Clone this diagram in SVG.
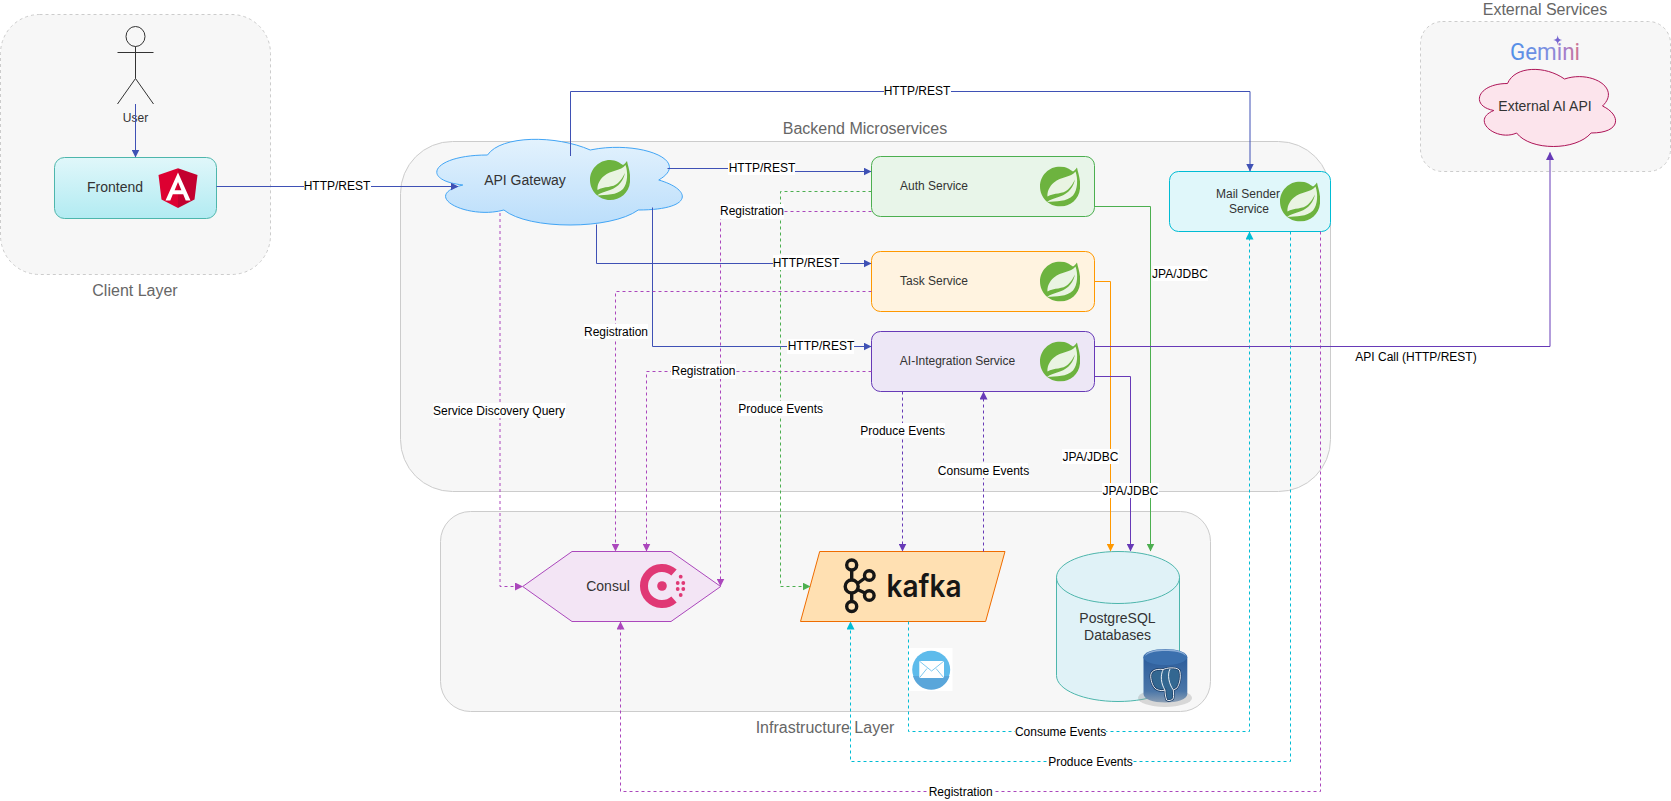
<svg xmlns="http://www.w3.org/2000/svg" width="1671" height="801" viewBox="0 0 1671 801">
<style>
text{font-family:"Liberation Sans",Arial,sans-serif;text-anchor:middle}
.layer{fill:#f7f7f7;stroke:#cccccc;stroke-width:1}
.dash{stroke-dasharray:3 3}
.title{font-size:16px;fill:#666666}
.n14{font-size:14px;fill:#333333}
.n12{font-size:12px;fill:#333333}
.lab{font-size:12px;fill:#000000}
.bg{fill:#ffffff}
.c{fill:none;stroke-width:1}
.http{stroke:#3f51b5}
.reg{stroke:#ab47bc}
.green{stroke:#4caf50}
.orange{stroke:#ff9800}
.purple{stroke:#673ab7}
.cyan{stroke:#00bcd4}
</style>
<defs>
<linearGradient id="gFront" x1="0" y1="0" x2="0" y2="1"><stop offset="0" stop-color="#e0f7fa"/><stop offset="1" stop-color="#b2ebf2"/></linearGradient>
<linearGradient id="gGate" x1="0" y1="0" x2="0" y2="1"><stop offset="0" stop-color="#e3f2fd"/><stop offset="1" stop-color="#bbdefb"/></linearGradient>
<linearGradient id="gGem" gradientUnits="userSpaceOnUse" x1="1510" y1="0" x2="1580" y2="0"><stop offset="0" stop-color="#4f8fe8"/><stop offset="0.55" stop-color="#7f8fe0"/><stop offset="0.8" stop-color="#a77cc8"/><stop offset="1" stop-color="#d0738a"/></linearGradient>
<linearGradient id="gPg" x1="0" y1="0" x2="0" y2="1"><stop offset="0" stop-color="#2c5d9c"/><stop offset="0.75" stop-color="#4a76a8"/><stop offset="1" stop-color="#8c9fb4"/></linearGradient>
<marker id="aHttp" markerUnits="userSpaceOnUse" markerWidth="8" markerHeight="8" refX="7.5" refY="4" orient="auto"><path d="M0,0 L8,4 L0,8 Z" fill="#3f51b5"/></marker>
<marker id="aReg" markerUnits="userSpaceOnUse" markerWidth="8" markerHeight="8" refX="7.5" refY="4" orient="auto"><path d="M0,0 L8,4 L0,8 Z" fill="#ab47bc"/></marker>
<marker id="aGreen" markerUnits="userSpaceOnUse" markerWidth="8" markerHeight="8" refX="7.5" refY="4" orient="auto"><path d="M0,0 L8,4 L0,8 Z" fill="#4caf50"/></marker>
<marker id="aOrange" markerUnits="userSpaceOnUse" markerWidth="8" markerHeight="8" refX="7.5" refY="4" orient="auto"><path d="M0,0 L8,4 L0,8 Z" fill="#ff9800"/></marker>
<marker id="aPurple" markerUnits="userSpaceOnUse" markerWidth="8" markerHeight="8" refX="7.5" refY="4" orient="auto"><path d="M0,0 L8,4 L0,8 Z" fill="#673ab7"/></marker>
<marker id="aCyan" markerUnits="userSpaceOnUse" markerWidth="8" markerHeight="8" refX="7.5" refY="4" orient="auto"><path d="M0,0 L8,4 L0,8 Z" fill="#00bcd4"/></marker>
<symbol id="spring" viewBox="0 0 40 40" width="40" height="40">
<path d="M37,1 C38,6 41,14 40,22 C39,33 30,40 20,40 C9,40 0,31 0,20 C0,9 9,0 20,0 C26,0 30,3 33,5 C34.5,4 36,2.5 37,1 Z" fill="#6db33f"/>
<path d="M35.5,5 C31,11 21,10 14,16 C9,20 7,26 7.5,30 C14,26 23,28 28,23 C31,20 33,17 35,13 C33.5,20 29,27 20,30 C15,32 10,33 7,35.5 C16,34.5 27,35.5 33,29 C38,23 38,12 35.5,5 Z" fill="#ffffff" fill-opacity="0.85"/>
</symbol>
</defs>
<rect width="1671" height="801" fill="#ffffff"/>

<g id="client-layer"><rect class="layer dash" x="0.5" y="14.5" width="270" height="260" rx="39" ry="39"/><text class="title" x="135" y="296">Client Layer</text></g>
<g id="backend-layer"><rect class="layer" x="400.5" y="141.5" width="930" height="350" rx="52" ry="52"/><text class="title" x="865" y="134">Backend Microservices</text></g>
<g id="infrastructure-layer"><rect class="layer" x="440.5" y="511.5" width="770" height="200" rx="30" ry="30"/><text class="title" x="825" y="733">Infrastructure Layer</text></g>
<g id="external-layer"><rect class="layer dash" x="1420.5" y="21.5" width="250" height="150" rx="22" ry="22"/><text class="title" x="1545" y="15">External Services</text></g>

<g id="user">
<g fill="none" stroke="#333333" stroke-width="1"><ellipse cx="135.5" cy="36.5" rx="9.5" ry="10"/><path d="M135.5,46.5 V78.5 M117.5,52.5 H153.5 M117.5,104 L135.5,78.5 L153.5,104"/></g>
<text class="n12" x="135.5" y="122">User</text>
</g>
<g id="frontend">
<rect x="54.5" y="157.5" width="162" height="61" rx="10" ry="10" fill="url(#gFront)" stroke="#4db6ac"/>
<text class="n14" x="115" y="192">Frontend</text>
<path d="M178,168.3 L158.5,175 L161.5,199.5 L178,208 Z" fill="#dd0031"/><path d="M178,168.3 L197.5,175 L194.5,199.5 L178,208 Z" fill="#c3002f"/>
<path fill-rule="evenodd" d="M178,172.5 L165.5,200.5 L170.3,200.5 L172.8,194.3 L183.2,194.3 L185.7,200.5 L190.5,200.5 Z M174.6,190.3 L178,182 L181.4,190.3 Z" fill="#ffffff"/>
</g>
<g id="api-gateway">
<path d="M487.5,155 C432.7,155 419,180 462.8,185 C419,196 468.3,220 503.9,210 C528.6,230 610.8,230 638.2,210 C693,210 693,190 658.75,180 C693,160 638.2,140 590.25,150 C556,135 501.2,135 487.5,155 Z" fill="url(#gGate)" stroke="#42a5f5"/>
<text class="n14" x="525" y="185">API Gateway</text>
<use href="#spring" x="590" y="160"/>
</g>
<g id="auth-service">
<rect x="871.5" y="156.5" width="223" height="60" rx="9" ry="9" fill="#e8f5e9" stroke="#4caf50"/>
<text class="n12" x="934" y="190">Auth Service</text><use href="#spring" x="1040" y="166.5"/>
</g>
<g id="task-service">
<rect x="871.5" y="251.5" width="223" height="60" rx="9" ry="9" fill="#fff3e0" stroke="#ff9800"/>
<text class="n12" x="934" y="285">Task Service</text><use href="#spring" x="1040" y="261.5"/>
</g>
<g id="ai-integration-service">
<rect x="871.5" y="331.5" width="223" height="60" rx="9" ry="9" fill="#ede7f6" stroke="#673ab7"/>
<text class="n12" x="957.5" y="365">AI-Integration Service</text><use href="#spring" x="1040" y="341.5"/>
</g>
<g id="mail-sender-service">
<rect x="1169.5" y="171.5" width="161" height="60" rx="9" ry="9" fill="#e0f7fa" stroke="#00bcd4"/>
<text class="n12" x="1248" y="197.5">Mail Sender</text><text class="n12" x="1249" y="212.5">Service</text><use href="#spring" x="1280" y="181.5"/>
</g>
<g id="external-ai-api">
<path d="M1507.5,83.5 C1477.1,83.5 1469.5,106 1493.8,110.5 C1469.5,120.4 1496.9,142 1516.6,133 C1530.3,151 1575.9,151 1591.1,133 C1621.5,133 1621.5,115 1602.5,106 C1621.5,88 1591.1,70 1564.5,79 C1545.5,65.5 1515.1,65.5 1507.5,83.5 Z" fill="#fce4ec" stroke="#ad1457"/>
<text class="n14" x="1545" y="111">External AI API</text>
</g>
<g id="gemini">
<text x="1545" y="60" font-size="23" textLength="70" lengthAdjust="spacingAndGlyphs" style="font-family:'Roboto','Liberation Sans',sans-serif" fill="url(#gGem)">Gemini</text>
<path d="M1557.7,35 C1558.2,38.5 1559,39.5 1562.2,40 C1559,40.5 1558.2,41.5 1557.7,45 C1557.2,41.5 1556.4,40.5 1553.2,40 C1556.4,39.5 1557.2,38.5 1557.7,35 Z" fill="#7565d0"/>
</g>
<g id="consul">
<path d="M522.7,586.5 L572,551.5 H671 L720.7,586.5 L671,621.5 H572 Z" fill="#f3e5f5" stroke="#ab47bc"/>
<text class="n14" x="608" y="591">Consul</text>
<path d="M674,572.6 A18,18 0 1 0 674,599.4" fill="none" stroke="#e03875" stroke-width="8"/>
<g fill="#e03875"><circle cx="662" cy="586" r="4.8"/><circle cx="680.7" cy="576.7" r="1.9"/><circle cx="677.7" cy="583" r="1.9"/><circle cx="683.3" cy="583" r="1.9"/><circle cx="677.7" cy="589" r="1.9"/><circle cx="683.3" cy="589" r="1.9"/><circle cx="680.7" cy="595" r="1.9"/></g>
</g>
<g id="kafka">
<path d="M819.7,551.5 H1005 L985.6,621.5 H800.5 Z" fill="#ffe0b2" stroke="#ef6c00"/>
<g fill="none" stroke="#161616" stroke-width="3.4"><circle cx="851.7" cy="565" r="5"/><circle cx="851.7" cy="586.5" r="6.5"/><circle cx="851.7" cy="606.5" r="5"/><circle cx="869.3" cy="575.5" r="4.8"/><circle cx="869.3" cy="595.5" r="4.8"/><path d="M851.7,570 V580 M851.7,593 V601.5 M857.5,583.5 L865,578 M857.5,589.5 L865,593"/></g>
<text x="924" y="596.7" font-size="31" font-weight="600" textLength="75" lengthAdjust="spacingAndGlyphs" fill="#161616" style="font-family:Inter,'Liberation Sans',sans-serif">kafka</text>
</g>
<g id="postgresql-databases">
<path d="M1056.5,577.5 C1056.5,563 1084,551.5 1118,551.5 C1152,551.5 1179.5,563 1179.5,577.5 V675.5 C1179.5,690 1152,701.5 1118,701.5 C1084,701.5 1056.5,690 1056.5,675.5 Z" fill="#e0f2f7" stroke="#4db6ac"/>
<path d="M1056.5,577.5 C1056.5,592 1084,603.5 1118,603.5 C1152,603.5 1179.5,592 1179.5,577.5" fill="none" stroke="#4db6ac"/>
<text class="n14" x="1117.5" y="623">PostgreSQL</text><text class="n14" x="1117.5" y="640">Databases</text>
</g>
<g id="postgres-icon">
<ellipse cx="1165" cy="698" rx="27" ry="9" fill="#9a9a9a" fill-opacity="0.35"/>
<path d="M1143.5,657 V694 C1143.5,699 1153,702.5 1165.3,702.5 C1177.5,702.5 1187.3,699 1187.3,694 V657 Z" fill="url(#gPg)"/>
<ellipse cx="1165.3" cy="657" rx="22" ry="8" fill="#3b70ae"/>
<path d="M1145,656 C1147,651 1155,649.5 1165.3,649.5 C1176,649.5 1184,651 1186,656 C1182,652 1174,651 1165.3,651 C1157,651 1149,652 1145,656 Z" fill="#8fb0d8"/>
<path id="pg-elephant" d="M1150.7,676.7 C1150.5,671 1155,668.6 1163.3,669.5 C1166,668 1176,666.5 1179.3,670 C1181.5,675 1180,684 1176.7,688.3 L1173.3,690 C1173.5,694 1174,698 1172.7,699.3 C1170,701 1167.5,700.8 1166.7,700 C1165.5,697 1165,693 1165,690 C1162,691 1160,690.5 1158.3,690 C1153,689 1151,681 1150.7,676.7 Z" fill="#336791" stroke="#1d3f68" stroke-width="2.4"/>
<path d="M1150.7,676.7 C1150.5,671 1155,668.6 1163.3,669.5 C1166,668 1176,666.5 1179.3,670 C1181.5,675 1180,684 1176.7,688.3 L1173.3,690 C1173.5,694 1174,698 1172.7,699.3 C1170,701 1167.5,700.8 1166.7,700 C1165.5,697 1165,693 1165,690 C1162,691 1160,690.5 1158.3,690 C1153,689 1151,681 1150.7,676.7 Z" fill="none" stroke="#ffffff" stroke-width="0.9"/>
<path d="M1163.3,669.5 C1160,675 1161,684 1165,690 M1170,669 C1167,675 1169,684 1173.3,690" fill="none" stroke="#ffffff" stroke-width="0.9"/>
</g>
<g id="mail-icon">
<rect x="908" y="648" width="44.5" height="43" fill="#ffffff"/>
<circle cx="931.2" cy="669.7" r="19" fill="#5ebbeb"/>
<path d="M913,676 H949.5 A19,19 0 0 1 913,676 Z" fill="#5aa6da"/>
<rect x="919.3" y="661" width="24.7" height="17" fill="#ffffff"/>
<path d="M919.3,661 L931.6,671 L944,661 M919.3,678 L927,668.5 M944,678 L936,668.5" fill="none" stroke="#5ebbeb" stroke-width="0.8"/>
</g>

<g id="connectors">
<path class="c http" d="M135.5,104 V157" marker-end="url(#aHttp)"/>
<path class="c http" d="M216.5,186.5 H458" marker-end="url(#aHttp)"/>
<path class="c http" d="M570.5,156 V91.5 H1250 V171" marker-end="url(#aHttp)"/>
<path class="c http" d="M667.5,168.5 H745 V171.5 H871" marker-end="url(#aHttp)"/>
<path class="c http" d="M596.5,224.5 V263.5 H871" marker-end="url(#aHttp)"/>
<path class="c http" d="M652.5,207.5 V346.5 H871" marker-end="url(#aHttp)"/>
<path class="c reg dash" d="M500,213 V586.5 H522.5" marker-end="url(#aReg)"/>
<path class="c reg dash" d="M871.5,211.5 H720.5 V586" marker-end="url(#aReg)"/>
<path class="c reg dash" d="M871.5,291.5 H615.5 V551" marker-end="url(#aReg)"/>
<path class="c reg dash" d="M871.5,371.5 H646.5 V551" marker-end="url(#aReg)"/>
<path class="c reg dash" d="M1320.5,231.5 V791.5 H620.5 V622" marker-end="url(#aReg)"/>
<path class="c green dash" d="M871.5,191.5 H780.5 V586.5 H810" marker-end="url(#aGreen)"/>
<path class="c purple dash" d="M902.5,391.5 V551" marker-end="url(#aPurple)"/>
<path class="c purple dash" d="M983.5,551.5 V392" marker-end="url(#aPurple)"/>
<path class="c cyan dash" d="M908.5,621.5 V731.5 H1249.5 V232" marker-end="url(#aCyan)"/>
<path class="c cyan dash" d="M1290.5,231.5 V761.5 H850.5 V622" marker-end="url(#aCyan)"/>
<path class="c green" d="M1094.5,206.5 H1150.5 V551" marker-end="url(#aGreen)"/>
<path class="c orange" d="M1094.5,281.5 H1110.5 V551" marker-end="url(#aOrange)"/>
<path class="c purple" d="M1094.5,376.5 H1130.5 V551" marker-end="url(#aPurple)"/>
<path class="c purple" d="M1094.5,346.5 H1550 V152.5" marker-end="url(#aPurple)"/>

<g id="edge-labels">
<rect class="bg" x="304" y="178" width="67" height="15"/><text class="lab" x="337" y="189.5">HTTP/REST</text>
<rect class="bg" x="884" y="83" width="67" height="15"/><text class="lab" x="917" y="94.5">HTTP/REST</text>
<rect class="bg" x="728" y="160" width="67" height="15"/><text class="lab" x="762" y="172">HTTP/REST</text>
<rect class="bg" x="773" y="255" width="67" height="15"/><text class="lab" x="806" y="267">HTTP/REST</text>
<rect class="bg" x="787" y="339" width="67" height="15"/><text class="lab" x="821" y="350">HTTP/REST</text>
<rect class="bg" x="720" y="204" width="64" height="15"/><text class="lab" x="752" y="215">Registration</text>
<rect class="bg" x="584" y="324" width="64" height="15"/><text class="lab" x="616" y="335.5">Registration</text>
<rect class="bg" x="671" y="364" width="65" height="15"/><text class="lab" x="703.5" y="375">Registration</text>
<rect class="bg" x="929" y="784" width="64" height="15"/><text class="lab" x="960.7" y="795.5">Registration</text>
<rect class="bg" x="433" y="403" width="133" height="15"/><text class="lab" x="499" y="415">Service Discovery Query</text>
<rect class="bg" x="738" y="401" width="85" height="15"/><text class="lab" x="780.7" y="413">Produce Events</text>
<rect class="bg" x="860" y="423" width="85" height="15"/><text class="lab" x="902.6" y="435">Produce Events</text>
<rect class="bg" x="1048" y="754" width="85" height="15"/><text class="lab" x="1090.5" y="765.5">Produce Events</text>
<rect class="bg" x="938" y="463" width="90" height="15"/><text class="lab" x="983.5" y="475">Consume Events</text>
<rect class="bg" x="1015" y="724" width="91" height="15"/><text class="lab" x="1060.6" y="735.5">Consume Events</text>
<rect class="bg" x="1153" y="266" width="55" height="15"/><text class="lab" x="1180" y="278">JPA/JDBC</text>
<rect class="bg" x="1062" y="449" width="57" height="15"/><text class="lab" x="1090.5" y="461">JPA/JDBC</text>
<rect class="bg" x="1102" y="483" width="57" height="15"/><text class="lab" x="1130.5" y="495">JPA/JDBC</text>
<rect class="bg" x="1358" y="349" width="117" height="15"/><text class="lab" x="1416" y="360.5">API Call (HTTP/REST)</text>
</g>
</g>
</svg>
